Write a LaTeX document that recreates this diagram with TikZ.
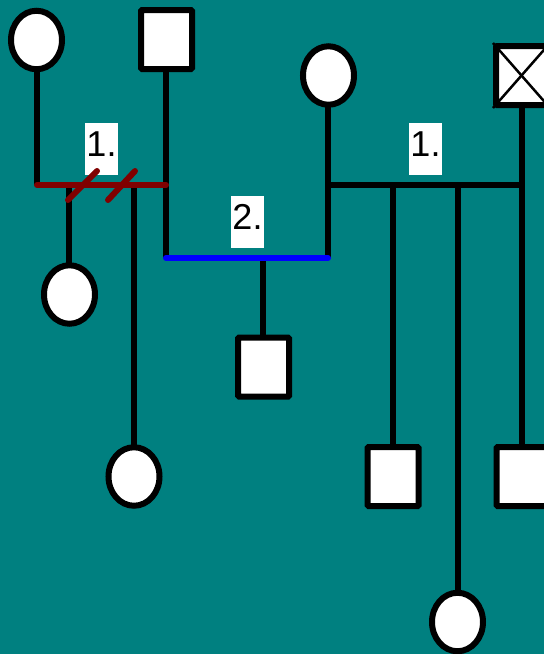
\documentclass[tikz,border=0pt]{standalone}
\usepackage{fontspec}
\setmainfont{Liberation Sans}
\usetikzlibrary{shapes.geometric}
\definecolor{bgteal}{HTML}{008080}
\definecolor{maroonline}{HTML}{800000}
\definecolor{blueline}{HTML}{0000FF}
\tikzset{
  fem/.style={ellipse, draw=black, fill=white, line width=6pt, minimum width=51pt, minimum height=58.5pt, inner sep=0pt},
  mal/.style={rectangle, draw=black, fill=white, line width=6pt, minimum width=51pt, minimum height=59pt, inner sep=0pt, rounded corners=1pt},
  link/.style={line width=5.5pt, draw=black},
  marr/.style={line width=6pt, line cap=round},
  lbl/.style={fill=white, inner xsep=1.5pt, inner ysep=2pt, text height=31pt, text depth=17pt, font=\fontsize{36pt}{36pt}\selectfont, anchor=base},
  xline/.style={line width=2.5pt, draw=black}
}
\begin{document}
\begin{tikzpicture}[x=1pt,y=-1pt]
\fill[bgteal] (0,0) rectangle (544,654);
\useasboundingbox (0,0) rectangle (544,654);
\clip (0,0) rectangle (544,654);

% couple coordinates
\coordinate (aL) at (37,185);
\coordinate (aR) at (166,185);
\coordinate (bL) at (166,258);
\coordinate (bR) at (328,258);
\coordinate (cL) at (328,185);
\coordinate (cR) at (522,185);
\coordinate (ac1) at (69,185);
\coordinate (ac2) at (134,185);
\coordinate (bc1) at (263,258);
\coordinate (cc1) at (393,185);
\coordinate (cc2) at (458,185);
\coordinate (cc3) at (522,185);

% labels
\node[lbl] (l1) at (101.5,156) {1.};
\node[lbl] (l2) at (247.5,229) {2.};
\node[lbl] (l3) at (425.5,156) {1.};

% connectors (drawn first)
\draw[link] (37,40) -- (aL);
\draw[link] (166,40) -- (bL);
\draw[link] (328,76) -- (bR);
\draw[link] (522,76) -- (522,476);
\draw[link] (cL) -- (cR);
\draw[link] (ac1) -- (69,294);
\draw[link] (ac2) -- (134,476);
\draw[link] (bc1) -- (263,367);
\draw[link] (cc1) -- (393,476);
\draw[link] (cc2) -- (458,622);

% marriage lines
\draw[marr, draw=maroonline] (aL) -- (aR);
\draw[marr, draw=maroonline] (68,200) -- (97,171);
\draw[marr, draw=maroonline] (108,200) -- (135,171);
\draw[marr, draw=blueline] (bL) -- (bR);

% persons
\node[fem] (p1) at (36.5,40) {};
\node[mal] (p2) at (166.5,39.5) {};
\node[fem] (p3) at (328.5,75.5) {};
\node[mal] (p4) at (521.5,75.5) {};
\draw[xline] (p4.north west) -- (p4.south east);
\draw[xline] (p4.south west) -- (p4.north east);
\node[fem] (p5) at (69.5,294.5) {};
\node[fem] (p6) at (134,476.5) {};
\node[mal] (p7) at (263.5,367) {};
\node[mal] (p8) at (393,476.5) {};
\node[mal] (p9) at (522,476.5) {};
\node[fem] (p10) at (457.5,622) {};
\end{tikzpicture}
\end{document}
